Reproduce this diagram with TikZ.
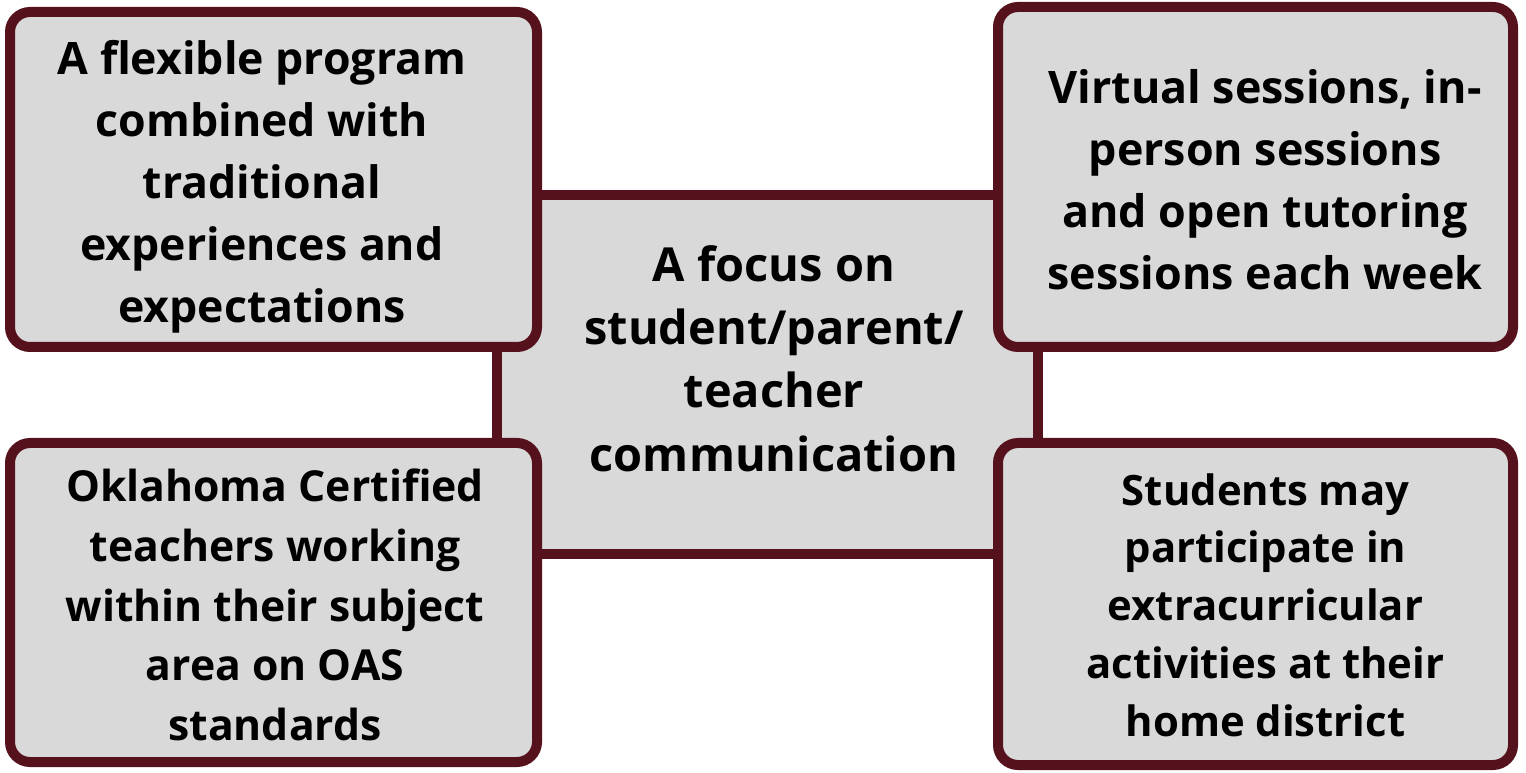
\documentclass[tikz,border=0pt]{standalone}
\usepackage{fontspec}
\setmainfont{Open Sans}
\definecolor{maroon}{HTML}{56121C}
\definecolor{boxgray}{HTML}{D9D9D9}
\begin{document}
\begin{tikzpicture}[font=\bfseries,
    panel/.style={draw=maroon,fill=boxgray,line width=0.2cm,rounded corners=0.4cm,inner sep=0pt},
    hub/.style={draw=maroon,fill=boxgray,line width=0.2cm,inner sep=0pt},
    txt/.style={align=center,inner sep=0pt}]
      \useasboundingbox (0,0) rectangle (30.52,15.44);
      % middle box first, corner boxes lie over it
      \node[hub,minimum width=10.82cm,minimum height=7.18cm] (focus) at (15.35,7.95) {};
      \node[panel,minimum width=10.54cm,minimum height=6.70cm] (flex) at (5.47,11.85) {};
      \node[panel,minimum width=10.30cm,minimum height=6.80cm] (virtual) at (25.11,11.90) {};
      \node[panel,minimum width=10.54cm,minimum height=6.38cm] (certified) at (5.47,3.39) {};
      \node[panel,minimum width=10.30cm,minimum height=6.44cm] (activities) at (25.11,3.36) {};
      % texts
      \node[txt,font=\fontsize{26.7}{36}\selectfont\bfseries] (focustxt) at (15.48,8.27) {A focus on\\student/parent/\\teacher\\communication};
      \node[txt,font=\fontsize{25.4}{35.3}\selectfont\bfseries] (flextxt) at (5.24,11.70) {A flexible program\\combined with\\traditional\\experiences and\\expectations};
      \node[txt,font=\fontsize{25.5}{35.3}\selectfont\bfseries] (virtualtxt) at (25.30,11.84) {Virtual sessions, in-\\person sessions\\and open tutoring\\sessions each week};
      \node[txt,font=\fontsize{24.3}{33.9}\selectfont\bfseries] (certifiedtxt) at (5.50,3.34) {Oklahoma Certified\\teachers working\\within their subject\\area on OAS\\standards};
      \node[txt,font=\fontsize{23.8}{32.9}\selectfont\bfseries] (activitiestxt) at (25.31,3.34) {Students may\\participate in\\extracurricular\\activities at their\\home district};
    \end{tikzpicture}
\end{document}
